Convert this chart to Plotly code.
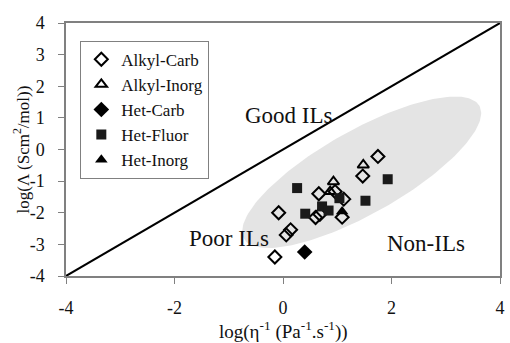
import numpy as np
import plotly.graph_objects as go

# ---- data ----
alkyl_carb_x = [1.75, 1.47, 0.66, -0.08, 0.14, 0.06, -0.15, 0.60, 0.68, 1.12, 1.09, 0.96]
alkyl_carb_y = [-0.22, -0.84, -1.40, -2.00, -2.54, -2.70, -3.40, -2.15, -2.05, -1.57, -2.14, -1.33]

alkyl_inorg_x = [1.48, 0.93, 0.87]
alkyl_inorg_y = [-0.49, -1.02, -1.33]

het_carb_x = [0.40]
het_carb_y = [-3.24]

het_fluor_x = [0.26, 1.93, 1.52, 0.41, 0.72, 0.84, 1.04]
het_fluor_y = [-1.22, -0.94, -1.62, -2.03, -1.80, -1.93, -1.54]

het_inorg_x = [1.09]
het_inorg_y = [-1.96]

diag_x = [-4, 4]
diag_y = [-4, 4]

# shaded region: ellipse centre and half-axis vectors (data units)
ell_center = (1.45, -0.72)
ell_u = (2.17, 2.10)
ell_v = (-0.38, 1.15)

x_ticks = [-4, -2, 0, 2, 4]
y_ticks = [-4, -3, -2, -1, 0, 1, 2, 3, 4]

x_title = "log(η<sup>-1</sup> (Pa<sup>-1</sup>.s<sup>-1</sup>))"
y_title = "log(Λ (Scm<sup>2</sup>/mol))"

FONT = "Liberation Serif, Times New Roman, serif"

t = np.linspace(0, 2 * np.pi, 200)
ex = ell_center[0] + ell_u[0] * np.cos(t) + ell_v[0] * np.sin(t)
ey = ell_center[1] + ell_u[1] * np.cos(t) + ell_v[1] * np.sin(t)

fig = go.Figure()
fig.add_trace(go.Scatter(x=ex, y=ey, mode="lines", fill="toself",
                         fillcolor="#e4e4e4", line=dict(width=0),
                         hoverinfo="skip", showlegend=False))
fig.add_trace(go.Scatter(x=diag_x, y=diag_y, mode="lines",
                         line=dict(color="black", width=2),
                         showlegend=False))

mk_line = dict(color="black", width=2)
fig.add_trace(go.Scatter(x=alkyl_carb_x, y=alkyl_carb_y, mode="markers", name="Alkyl-Carb",
                         marker=dict(symbol="diamond-open", size=10, color="black", line=mk_line)))
fig.add_trace(go.Scatter(x=alkyl_inorg_x, y=alkyl_inorg_y, mode="markers", name="Alkyl-Inorg",
                         marker=dict(symbol="triangle-up-open", size=10, color="black", line=mk_line)))
fig.add_trace(go.Scatter(x=het_carb_x, y=het_carb_y, mode="markers", name="Het-Carb",
                         marker=dict(symbol="diamond", size=12, color="black")))
fig.add_trace(go.Scatter(x=het_fluor_x, y=het_fluor_y, mode="markers", name="Het-Fluor",
                         marker=dict(symbol="square", size=10, color="#1a1a1a")))
fig.add_trace(go.Scatter(x=het_inorg_x, y=het_inorg_y, mode="markers", name="Het-Inorg",
                         marker=dict(symbol="triangle-up", size=11, color="black")))

for txt, x, y in [("Good ILs", 0.11, 1.09), ("Poor ILs", -0.99, -2.82), ("Non-ILs", 2.63, -2.98)]:
    fig.add_annotation(x=x, y=y, text=txt, showarrow=False,
                       font=dict(family=FONT, size=23, color="#111"))

# axis titles
fig.add_annotation(x=0.5, y=0, xref="paper", yref="paper", yanchor="middle",
                   yshift=-54, text=x_title, showarrow=False,
                   font=dict(family=FONT, size=19, color="#111"))
fig.add_annotation(x=0, y=0.5, xref="paper", yref="paper", xanchor="center",
                   xshift=-45, text=y_title, textangle=-90, showarrow=False,
                   font=dict(family=FONT, size=17, color="#111"))

axis_common = dict(showgrid=False, zeroline=False, showline=True, linecolor="#808080",
                   linewidth=1.5, mirror=True, ticks="outside", tickcolor="#808080",
                   ticklen=6, tickwidth=1,
                   tickfont=dict(family=FONT, size=18, color="#111"))

fig.update_xaxes(range=[-4, 4], tickvals=x_ticks, ticktext=[str(v) for v in x_ticks],
                 ticklabelstandoff=9, **axis_common)
fig.update_yaxes(range=[-4, 4], tickvals=y_ticks, ticktext=[str(v) for v in y_ticks],
                 ticklabelstandoff=10, **axis_common)

fig.update_layout(
    width=510, height=343,
    margin=dict(l=66, r=5, t=23, b=67),
    paper_bgcolor="white", plot_bgcolor="white",
    font=dict(family=FONT, color="#111"),
    legend=dict(x=0.033, y=0.93, xanchor="left", yanchor="top",
                bgcolor="white", bordercolor="#808080", borderwidth=1,
                font=dict(family=FONT, size=17, color="#111"),
                itemwidth=30, tracegroupgap=0),
)

fig.write_html("out.html")
